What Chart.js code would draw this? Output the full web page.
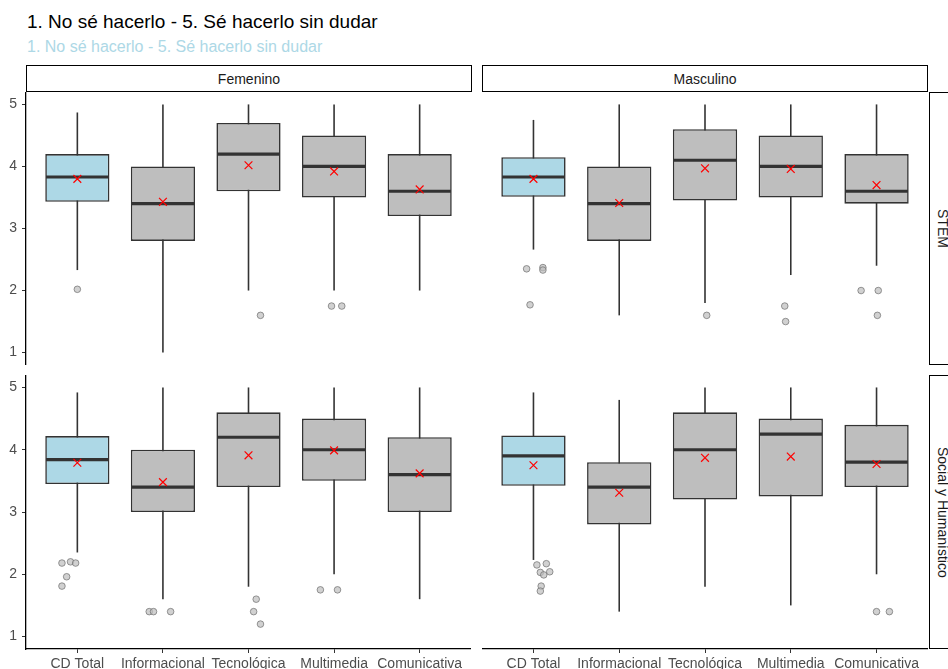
<!DOCTYPE html>
<html>
<head>
<meta charset="utf-8">
<script src="https://cdn.jsdelivr.net/npm/chart.js@4"></script>
<style>
  body { margin: 0; background: #fff; width: 948px; height: 669px; overflow: hidden; position: relative; font-family: "Liberation Sans", Arial, sans-serif; }
  canvas { position: absolute; }
  .title { position: absolute; left: 27px; top: 12px; font-size: 19px; line-height: 19px; color: #000; white-space: nowrap; }
  .subtitle { position: absolute; left: 27px; top: 39px; font-size: 16px; line-height: 16px; color: #ADD8E6; white-space: nowrap; }
  .strip { position: absolute; box-sizing: border-box; border: 1.5px solid #000; background: #fff; color: #1A1A1A; font-size: 14px; display: flex; align-items: center; justify-content: center; white-space: nowrap; }
  .strip.row span { writing-mode: vertical-rl; }
</style>
</head>
<body>
<div class="title">1. No sé hacerlo - 5. Sé hacerlo sin dudar</div>
<div class="subtitle">1. No sé hacerlo - 5. Sé hacerlo sin dudar</div>

<div class="strip" style="left:26px; top:65px; width:446px; height:27px;">Femenino</div>
<div class="strip" style="left:482px; top:65px; width:446px; height:27px;">Masculino</div>
<div class="strip row" style="left:929px; top:92px; width:27px; height:273px;"><span>STEM</span></div>
<div class="strip row" style="left:929px; top:375px; width:27px; height:274px;"><span>Social y Humanístico</span></div>

<canvas id="femStem" width="471" height="273" style="left:0; top:92px;"></canvas>
<canvas id="mascStem" width="446" height="273" style="left:482px; top:92px;"></canvas>
<canvas id="femSoc" width="471" height="294" style="left:0; top:375px;"></canvas>
<canvas id="mascSoc" width="446" height="294" style="left:482px; top:375px;"></canvas>

<script>
const categories = ['CD Total', 'Informacional', 'Tecnológica', 'Multimedia', 'Comunicativa'];
const yTicks = [1, 2, 3, 4, 5];

// five-number summaries per category: [min whisker, q1, median, q3, max whisker]
const femStemBox = [
  [2.33, 3.43, 3.83, 4.20, 4.87],
  [1.00, 2.80, 3.40, 4.00, 5.00],
  [2.00, 3.60, 4.20, 4.70, 5.00],
  [2.00, 3.50, 4.00, 4.50, 5.00],
  [2.00, 3.20, 3.60, 4.20, 5.00]
];
const mascStemBox = [
  [2.66, 3.51, 3.83, 4.15, 4.75],
  [1.60, 2.80, 3.40, 4.00, 5.00],
  [1.80, 3.45, 4.10, 4.60, 5.00],
  [2.25, 3.50, 4.00, 4.50, 5.00],
  [2.40, 3.40, 3.60, 4.20, 5.00]
];
const femSocBox = [
  [2.35, 3.45, 3.84, 4.22, 4.92],
  [1.60, 3.00, 3.40, 4.00, 5.00],
  [1.80, 3.40, 4.20, 4.60, 5.00],
  [2.00, 3.50, 4.00, 4.50, 5.00],
  [1.60, 3.00, 3.60, 4.20, 5.00]
];
const mascSocBox = [
  [2.23, 3.42, 3.90, 4.23, 4.92],
  [1.40, 2.80, 3.40, 3.80, 4.80],
  [1.80, 3.20, 4.00, 4.60, 5.00],
  [1.50, 3.25, 4.25, 4.50, 5.00],
  [2.00, 3.40, 3.80, 4.40, 5.00]
];

// means (red x)
const femStemMean = [3.80, 3.43, 4.02, 3.92, 3.63];
const mascStemMean = [3.80, 3.41, 3.97, 3.96, 3.70];
const femSocMean = [3.79, 3.48, 3.91, 3.99, 3.62];
const mascSocMean = [3.75, 3.31, 3.87, 3.89, 3.77];

// jittered outliers: [category position, value]
const femStemOut = [[1.00, 2.02], [3.14, 1.60], [3.97, 1.75], [4.09, 1.75]];
const mascStemOut = [[0.92, 2.35], [1.11, 2.37], [1.11, 2.33], [0.96, 1.77], [3.02, 1.60],
  [3.93, 1.75], [3.94, 1.50], [4.82, 2.00], [5.02, 2.00], [5.01, 1.60]];
const femSocOut = [[0.82, 2.18], [0.92, 2.20], [0.98, 2.18], [0.875, 1.96], [0.82, 1.81],
  [1.84, 1.40], [1.89, 1.40], [2.09, 1.40], [3.09, 1.60], [3.06, 1.40], [3.14, 1.20],
  [3.84, 1.75], [4.04, 1.75]];
const mascSocOut = [[1.04, 2.15], [1.15, 2.17], [1.08, 2.03], [1.12, 1.99], [1.19, 2.04],
  [1.09, 1.81], [1.08, 1.73], [5.00, 1.40], [5.15, 1.40]];

const fontFamily = '"Liberation Sans", Arial, sans-serif';
const lineColor = '#333333';

// whiskers behind the boxes, medians on top of them
const boxParts = {
  id: 'boxParts',
  beforeDatasetsDraw(chart, args, opts) {
    const ctx = chart.ctx, x = chart.scales.x, y = chart.scales.y;
    ctx.save();
    ctx.strokeStyle = lineColor;
    ctx.lineWidth = 1.6;
    opts.stats.forEach((s, i) => {
      const px = x.getPixelForValue(i + 1);
      ctx.beginPath();
      ctx.moveTo(px, y.getPixelForValue(s[0]));
      ctx.lineTo(px, y.getPixelForValue(s[4]));
      ctx.stroke();
    });
    ctx.restore();
  },
  afterDatasetDraw(chart, args, opts) {
    if (args.index !== 0) return;
    const ctx = chart.ctx, y = chart.scales.y;
    const bars = chart.getDatasetMeta(0).data;
    ctx.save();
    ctx.strokeStyle = lineColor;
    ctx.lineWidth = 3.2;
    opts.stats.forEach((s, i) => {
      const b = bars[i];
      const py = y.getPixelForValue(s[2]);
      ctx.beginPath();
      ctx.moveTo(b.x - b.width / 2 + 0.8, py);
      ctx.lineTo(b.x + b.width / 2 - 0.8, py);
      ctx.stroke();
    });
    ctx.restore();
  }
};

function fixX(s) {
  if (s.options.display) s.height = 20;
  s.paddingLeft = 0; s.paddingRight = 0; s.paddingTop = 0; s.paddingBottom = 0;
}
function fixY(s) {
  if (s.options.display) s.width = 26;
  s.paddingLeft = 0; s.paddingRight = 0; s.paddingTop = 0; s.paddingBottom = 0;
}

function makePanel(id, stats, means, outliers, showX, showY) {
  return new Chart(document.getElementById(id), {
    type: 'bar',
    data: {
      datasets: [
        {
          type: 'bar',
          order: 3,
          data: stats.map((s, i) => ({ x: i + 1, y: [s[1], s[3]] })),
          backgroundColor: stats.map((s, i) => i === 0 ? '#ADD8E6' : '#BEBEBE'),
          borderColor: lineColor,
          borderWidth: 1.6,
          borderSkipped: false,
          categoryPercentage: 1,
          barPercentage: 0.75
        },
        {
          type: 'scatter',
          order: 2,
          data: outliers.map(o => ({ x: o[0], y: o[1] })),
          pointRadius: 3.3,
          backgroundColor: 'rgba(190,190,190,0.7)',
          borderColor: 'rgba(110,110,110,0.7)',
          borderWidth: 1
        },
        {
          type: 'scatter',
          order: 1,
          data: means.map((m, i) => ({ x: i + 1, y: m })),
          pointStyle: 'crossRot',
          pointRadius: 5.5,
          borderColor: '#FF0000',
          borderWidth: 1.2
        }
      ]
    },
    options: {
      animation: false,
      responsive: false,
      events: [],
      layout: { padding: 0, autoPadding: false },
      plugins: {
        legend: { display: false },
        title: { display: false },
        tooltip: { enabled: false },
        boxParts: { stats: stats }
      },
      scales: {
        x: {
          type: 'linear',
          min: 0.4,
          max: 5.6,
          offset: false,
          display: showX,
          afterBuildTicks: s => { s.ticks = categories.map((c, i) => ({ value: i + 1 })); },
          afterFit: fixX,
          grid: { offset: false, drawOnChartArea: false, tickLength: 4, color: lineColor },
          border: { display: true, color: '#000', width: 1.3 },
          ticks: {
            autoSkip: false,
            maxRotation: 0,
            padding: 3,
            color: '#4D4D4D',
            font: { family: fontFamily, size: 14 },
            callback: v => categories[v - 1]
          }
        },
        y: {
          type: 'linear',
          min: 0.8,
          max: 5.2,
          display: showY,
          afterBuildTicks: s => { s.ticks = yTicks.map(v => ({ value: v })); },
          afterFit: fixY,
          grid: { drawOnChartArea: false, tickLength: 4, color: lineColor },
          border: { display: true, color: '#000', width: 1.3 },
          ticks: {
            padding: 5,
            color: '#4D4D4D',
            font: { family: fontFamily, size: 14 }
          }
        }
      }
    },
    plugins: [boxParts]
  });
}

makePanel('femStem', femStemBox, femStemMean, femStemOut, false, true);
makePanel('mascStem', mascStemBox, mascStemMean, mascStemOut, false, false);
makePanel('femSoc', femSocBox, femSocMean, femSocOut, true, true);
makePanel('mascSoc', mascSocBox, mascSocMean, mascSocOut, true, false);
</script>
</body>
</html>
